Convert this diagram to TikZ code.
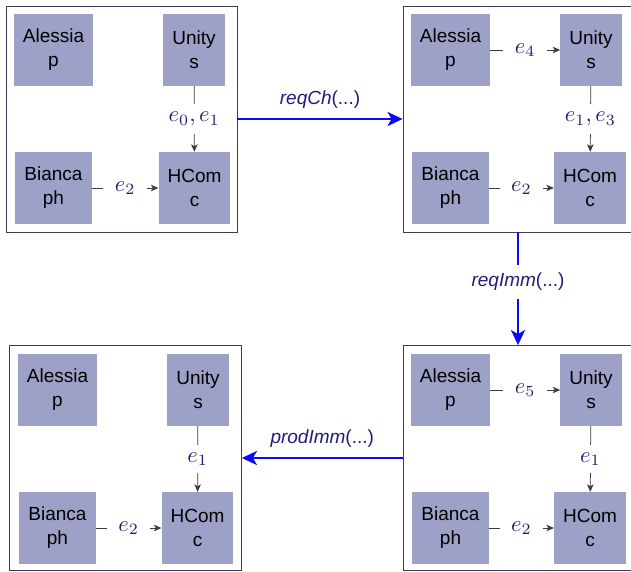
\documentclass[tikz,border=0pt]{standalone}
\usepackage{graphicx}
\usepackage[no-math]{fontspec}
\setmainfont{Liberation Sans}
\usetikzlibrary{arrows.meta}
\definecolor{boxfill}{RGB}{157,160,199}
\definecolor{labnavy}{RGB}{30,30,120}
\definecolor{framecol}{RGB}{60,60,90}
\definecolor{edgecol}{RGB}{60,60,60}
\definecolor{bigblue}{RGB}{10,10,250}
\newcommand{\elabtext}[1]{\scalebox{2.25}{$#1$}}
\tikzset{
  agent/.style={fill=boxfill, font=\fontsize{19}{24}\selectfont, align=center, inner xsep=9pt, minimum height=72pt, text=black},
  frame/.style={draw=framecol, line width=0.8pt, inner sep=0pt},
  flow/.style={draw=edgecol, line width=0.75pt, -{Stealth[length=7.5pt,width=6.5pt,inset=2pt]}},
  elab/.style={fill=white, text=labnavy, inner xsep=11.5pt, inner ysep=7.5pt},
  bigarrow/.style={draw=bigblue, line width=2.8pt, -{Stealth[length=15pt,width=14pt,inset=4pt]}},
  alab/.style={text=labnavy, font=\fontsize{19}{24}\selectfont},
}
\begin{document}
\begin{tikzpicture}[x=1pt,y=-1pt]
\useasboundingbox[fill=white] (0,0) rectangle (631,572);
% frames
\node[frame, minimum width=231pt, minimum height=226pt] (TL) at (121.5,119) {};
\node[frame, minimum width=230pt, minimum height=226pt] (TR) at (518,119) {};
\node[frame, minimum width=232pt, minimum height=225pt] (BL) at (125.5,458) {};
\node[frame, minimum width=230pt, minimum height=225pt] (BR) at (518,458) {};

% top-left
\node[agent] (a1) at (53.5,50) {Alessia\\p};
\node[agent] (u1) at (194,50) {Unity\\s};
\node[agent] (b1) at (53.5,188) {Bianca\\ph};
\node[agent] (h1) at (194.5,188) {HCom\\c};
\draw[flow] (u1) -- node[elab] {\elabtext{e_0, e_1}} (h1);
\draw[flow] (b1) -- node[elab] {\elabtext{e_2}} (h1);

% top-right
\node[agent] (a2) at (450.5,50) {Alessia\\p};
\node[agent] (u2) at (591,50) {Unity\\s};
\node[agent] (b2) at (450.5,188) {Bianca\\ph};
\node[agent] (h2) at (590,188) {HCom\\c};
\draw[flow] (a2) -- node[elab] {\elabtext{e_4}} (u2);
\draw[flow] (u2) -- node[elab] {\elabtext{e_1, e_3}} (h2);
\draw[flow] (b2) -- node[elab] {\elabtext{e_2}} (h2);

% bottom-left
\node[agent] (a3) at (57.5,390) {Alessia\\p};
\node[agent] (u3) at (198,390) {Unity\\s};
\node[agent] (b3) at (57.5,528) {Bianca\\ph};
\node[agent] (h3) at (197.5,528) {HCom\\c};
\draw[flow] (u3) -- node[elab] {\elabtext{e_1}} (h3);
\draw[flow] (b3) -- node[elab] {\elabtext{e_2}} (h3);

% bottom-right
\node[agent] (a4) at (450.5,390) {Alessia\\p};
\node[agent] (u4) at (591,390) {Unity\\s};
\node[agent] (b4) at (450.5,528) {Bianca\\ph};
\node[agent] (h4) at (590,528) {HCom\\c};
\draw[flow] (a4) -- node[elab] {\elabtext{e_5}} (u4);
\draw[flow] (u4) -- node[elab] {\elabtext{e_1}} (h4);
\draw[flow] (b4) -- node[elab] {\elabtext{e_2}} (h4);

% transitions
\draw[bigarrow] (TL.east) -- node[alab, above=6pt] {\textit{reqCh}(...)} (TR.west);
\draw[bigarrow] (TR.south) -- node[alab, fill=white, inner ysep=8pt, pos=0.44] {\textit{reqImm}(...)} (BR.north);
\draw[bigarrow] (BR.west) -- node[alab, above=6pt] {\textit{prodImm}(...)} (BL.east);
\end{tikzpicture}
\end{document}
